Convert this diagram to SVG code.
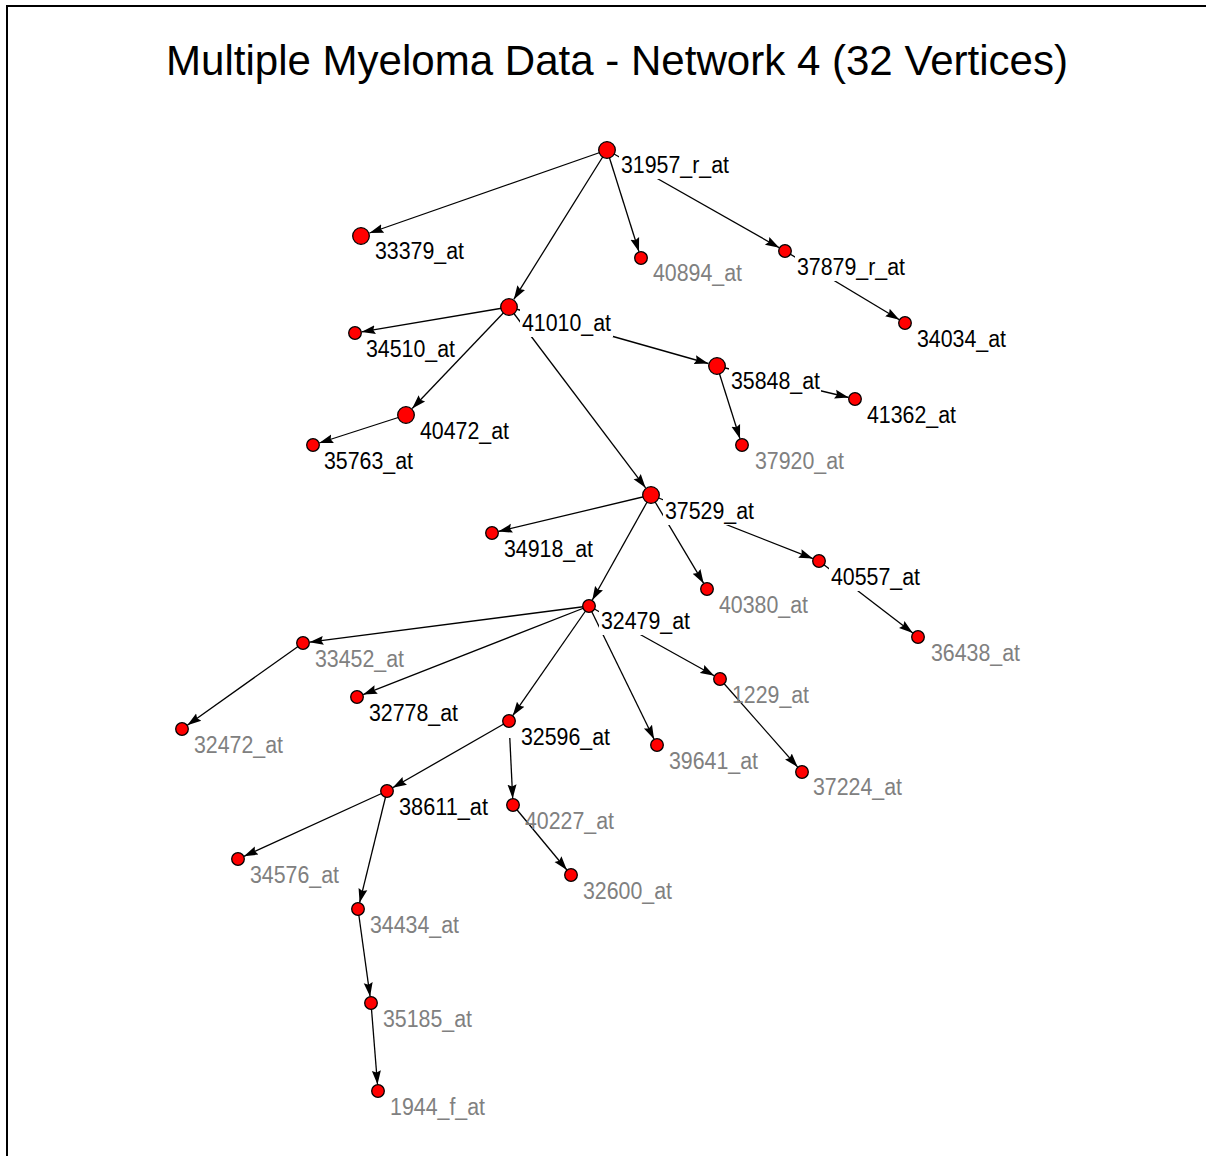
<svg xmlns="http://www.w3.org/2000/svg" width="1206" height="1156" viewBox="0 0 1206 1156">
<style>
.edge{stroke:#000;stroke-width:1.3;fill:none;marker-end:url(#arr)}
.nb{fill:#ff0000;stroke:#000;stroke-width:1.3}
.lbl{font-family:"Liberation Sans",Arial,sans-serif;font-size:23px;fill:#000}
.g{fill:#808080}
.bg{fill:#fff;stroke:none}
.title{font-family:"Liberation Sans",Arial,sans-serif;font-size:42px;fill:#000}
</style>
<defs>
<marker id="arr" markerUnits="userSpaceOnUse" markerWidth="15" markerHeight="11" refX="14" refY="5.5" orient="auto">
<path d="M0,1 L14,5.5 L0,10 L2,5.5 z" fill="#000"/>
</marker>
</defs>
<rect x="0" y="0" width="1206" height="1156" fill="#fff"/>
<path d="M7,1156 V6 H1206" stroke="#000" stroke-width="2" fill="none"/>
<text class="title" x="166" y="75" textLength="902" lengthAdjust="spacingAndGlyphs">Multiple Myeloma Data - Network 4 (32 Vertices)</text>
<g id="connectors">
<line class="edge" x1="607" y1="150" x2="369.5" y2="233"/>
<line class="edge" x1="607" y1="150" x2="513.8" y2="299.4"/>
<line class="edge" x1="607" y1="150" x2="639" y2="251.8"/>
<line class="edge" x1="607" y1="150" x2="779.3" y2="247.8"/>
<line class="edge" x1="785" y1="251" x2="899.4" y2="319.7"/>
<line class="edge" x1="509" y1="307" x2="361.4" y2="331.9"/>
<line class="edge" x1="509" y1="307" x2="412.2" y2="408.5"/>
<line class="edge" x1="509" y1="307" x2="708.3" y2="363.5"/>
<line class="edge" x1="509" y1="307" x2="645.6" y2="487.8"/>
<line class="edge" x1="406" y1="415" x2="319.2" y2="443"/>
<line class="edge" x1="717" y1="366" x2="848.7" y2="397.5"/>
<line class="edge" x1="717" y1="366" x2="740" y2="438.8"/>
<line class="edge" x1="651" y1="495" x2="498.3" y2="531.5"/>
<line class="edge" x1="651" y1="495" x2="703.7" y2="583.4"/>
<line class="edge" x1="651" y1="495" x2="812.9" y2="558.6"/>
<line class="edge" x1="651" y1="495" x2="592.2" y2="600.3"/>
<line class="edge" x1="819" y1="561" x2="912.8" y2="633"/>
<line class="edge" x1="589" y1="606" x2="309.4" y2="642.2"/>
<line class="edge" x1="589" y1="606" x2="363.1" y2="694.6"/>
<line class="edge" x1="589" y1="606" x2="512.7" y2="715.7"/>
<line class="edge" x1="589" y1="606" x2="654.1" y2="739.2"/>
<line class="edge" x1="589" y1="606" x2="714.3" y2="675.8"/>
<line class="edge" x1="303" y1="643" x2="187.3" y2="725.2"/>
<line class="edge" x1="720" y1="679" x2="797.7" y2="767.1"/>
<line class="edge" x1="509" y1="721" x2="392.6" y2="787.8"/>
<line class="edge" x1="509.8" y1="738" x2="512.7" y2="798.5"/>
<line class="edge" x1="513" y1="805" x2="566.9" y2="870"/>
<line class="edge" x1="387" y1="791" x2="243.9" y2="856.3"/>
<line class="edge" x1="387" y1="791" x2="359.6" y2="902.7"/>
<line class="edge" x1="358" y1="909" x2="370.1" y2="996.6"/>
<line class="edge" x1="371" y1="1003" x2="377.5" y2="1084.5"/>
</g>
<g id="n31957_r_at"><circle class="nb" cx="607" cy="150" r="8.3"/><rect class="bg" x="619" y="151" width="111" height="28"/><text class="lbl" x="621" y="173" textLength="108" lengthAdjust="spacingAndGlyphs">31957_r_at</text></g>
<g id="n33379_at"><circle class="nb" cx="361" cy="236" r="8.3"/><text class="lbl" x="375" y="259" textLength="89" lengthAdjust="spacingAndGlyphs">33379_at</text></g>
<g id="n40894_at"><circle class="nb" cx="641" cy="258" r="6.3"/><text class="lbl g" x="653" y="281" textLength="89" lengthAdjust="spacingAndGlyphs">40894_at</text></g>
<g id="n37879_r_at"><circle class="nb" cx="785" cy="251" r="6.3"/><rect class="bg" x="795" y="253" width="111" height="28"/><text class="lbl" x="797" y="275" textLength="108" lengthAdjust="spacingAndGlyphs">37879_r_at</text></g>
<g id="n34034_at"><circle class="nb" cx="905" cy="323" r="6.3"/><text class="lbl" x="917" y="347" textLength="89" lengthAdjust="spacingAndGlyphs">34034_at</text></g>
<g id="n41010_at"><circle class="nb" cx="509" cy="307" r="8.3"/><rect class="bg" x="520" y="309" width="93" height="28"/><text class="lbl" x="522" y="331" textLength="89" lengthAdjust="spacingAndGlyphs">41010_at</text></g>
<g id="n34510_at"><circle class="nb" cx="355" cy="333" r="6.3"/><text class="lbl" x="366" y="357" textLength="89" lengthAdjust="spacingAndGlyphs">34510_at</text></g>
<g id="n40472_at"><circle class="nb" cx="406" cy="415" r="8.3"/><text class="lbl" x="420" y="439" textLength="89" lengthAdjust="spacingAndGlyphs">40472_at</text></g>
<g id="n35763_at"><circle class="nb" cx="313" cy="445" r="6.3"/><text class="lbl" x="324" y="469" textLength="89" lengthAdjust="spacingAndGlyphs">35763_at</text></g>
<g id="n35848_at"><circle class="nb" cx="717" cy="366" r="8.3"/><rect class="bg" x="729" y="367" width="92" height="28"/><text class="lbl" x="731" y="389" textLength="89" lengthAdjust="spacingAndGlyphs">35848_at</text></g>
<g id="n41362_at"><circle class="nb" cx="855" cy="399" r="6.3"/><text class="lbl" x="867" y="423" textLength="89" lengthAdjust="spacingAndGlyphs">41362_at</text></g>
<g id="n37920_at"><circle class="nb" cx="742" cy="445" r="6.3"/><text class="lbl g" x="755" y="469" textLength="89" lengthAdjust="spacingAndGlyphs">37920_at</text></g>
<g id="n37529_at"><circle class="nb" cx="651" cy="495" r="8.3"/><rect class="bg" x="663" y="497" width="93" height="28"/><text class="lbl" x="665" y="519" textLength="89" lengthAdjust="spacingAndGlyphs">37529_at</text></g>
<g id="n34918_at"><circle class="nb" cx="492" cy="533" r="6.3"/><text class="lbl" x="504" y="557" textLength="89" lengthAdjust="spacingAndGlyphs">34918_at</text></g>
<g id="n40380_at"><circle class="nb" cx="707" cy="589" r="6.3"/><text class="lbl g" x="719" y="613" textLength="89" lengthAdjust="spacingAndGlyphs">40380_at</text></g>
<g id="n40557_at"><circle class="nb" cx="819" cy="561" r="6.3"/><rect class="bg" x="829" y="563" width="93" height="28"/><text class="lbl" x="831" y="585" textLength="89" lengthAdjust="spacingAndGlyphs">40557_at</text></g>
<g id="n36438_at"><circle class="nb" cx="918" cy="637" r="6.3"/><text class="lbl g" x="931" y="661" textLength="89" lengthAdjust="spacingAndGlyphs">36438_at</text></g>
<g id="n32479_at"><circle class="nb" cx="589" cy="606" r="6.3"/><rect class="bg" x="599" y="607" width="93" height="28"/><text class="lbl" x="601" y="629" textLength="89" lengthAdjust="spacingAndGlyphs">32479_at</text></g>
<g id="n33452_at"><circle class="nb" cx="303" cy="643" r="6.3"/><text class="lbl g" x="315" y="667" textLength="89" lengthAdjust="spacingAndGlyphs">33452_at</text></g>
<g id="n32472_at"><circle class="nb" cx="182" cy="729" r="6.3"/><text class="lbl g" x="194" y="753" textLength="89" lengthAdjust="spacingAndGlyphs">32472_at</text></g>
<g id="n32778_at"><circle class="nb" cx="357" cy="697" r="6.3"/><text class="lbl" x="369" y="721" textLength="89" lengthAdjust="spacingAndGlyphs">32778_at</text></g>
<g id="n1229_at"><circle class="nb" cx="720" cy="679" r="6.3"/><text class="lbl g" x="732" y="703" textLength="77" lengthAdjust="spacingAndGlyphs">1229_at</text></g>
<g id="n37224_at"><circle class="nb" cx="802" cy="772" r="6.3"/><text class="lbl g" x="813" y="795" textLength="89" lengthAdjust="spacingAndGlyphs">37224_at</text></g>
<g id="n39641_at"><circle class="nb" cx="657" cy="745" r="6.3"/><text class="lbl g" x="669" y="769" textLength="89" lengthAdjust="spacingAndGlyphs">39641_at</text></g>
<g id="n32596_at"><circle class="nb" cx="509" cy="721" r="6.3"/><text class="lbl" x="521" y="745" textLength="89" lengthAdjust="spacingAndGlyphs">32596_at</text></g>
<g id="n38611_at"><circle class="nb" cx="387" cy="791" r="6.3"/><text class="lbl" x="399" y="815" textLength="89" lengthAdjust="spacingAndGlyphs">38611_at</text></g>
<g id="n40227_at"><circle class="nb" cx="513" cy="805" r="6.3"/><text class="lbl g" x="525" y="829" textLength="89" lengthAdjust="spacingAndGlyphs">40227_at</text></g>
<g id="n32600_at"><circle class="nb" cx="571" cy="875" r="6.3"/><text class="lbl g" x="583" y="899" textLength="89" lengthAdjust="spacingAndGlyphs">32600_at</text></g>
<g id="n34576_at"><circle class="nb" cx="238" cy="859" r="6.3"/><text class="lbl g" x="250" y="883" textLength="89" lengthAdjust="spacingAndGlyphs">34576_at</text></g>
<g id="n34434_at"><circle class="nb" cx="358" cy="909" r="6.3"/><text class="lbl g" x="370" y="933" textLength="89" lengthAdjust="spacingAndGlyphs">34434_at</text></g>
<g id="n35185_at"><circle class="nb" cx="371" cy="1003" r="6.3"/><text class="lbl g" x="383" y="1027" textLength="89" lengthAdjust="spacingAndGlyphs">35185_at</text></g>
<g id="n1944_f_at"><circle class="nb" cx="378" cy="1091" r="6.3"/><text class="lbl g" x="390" y="1115" textLength="95" lengthAdjust="spacingAndGlyphs">1944_f_at</text></g>
</svg>
